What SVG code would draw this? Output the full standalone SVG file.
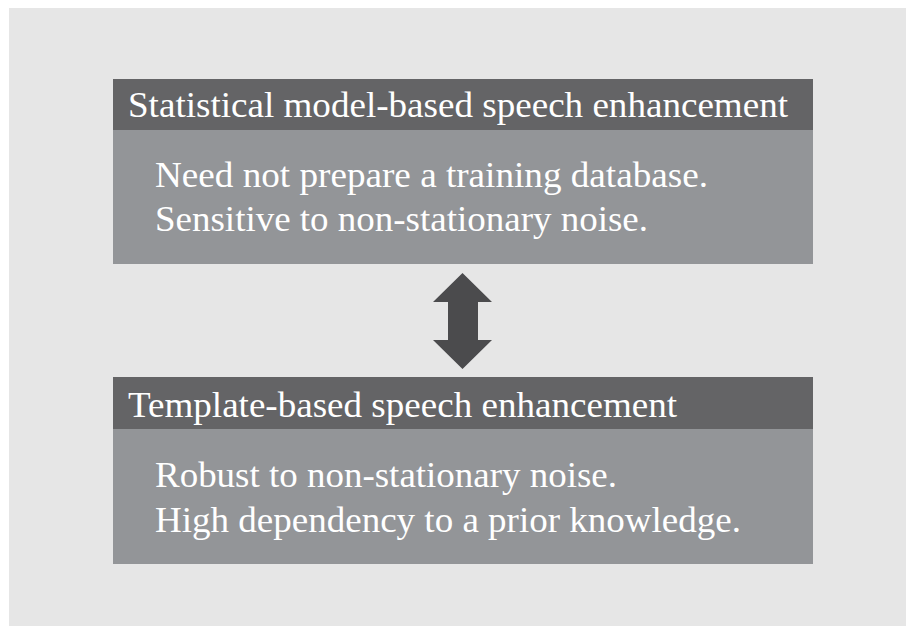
<svg xmlns="http://www.w3.org/2000/svg" width="906" height="627" viewBox="0 0 906 627">
  <style>
    .hdr { fill: #646466; }
    .body { fill: #939598; }
    .t { font-family: "Liberation Serif", "Times New Roman", serif; font-size: 36px; fill: #ffffff; }
  </style>
  <rect x="0" y="0" width="906" height="627" fill="#ffffff"/>
  <rect x="9" y="8" width="897" height="618" fill="#e6e6e6"/>

  <g id="node-statistical">
    <rect class="hdr" x="113" y="79" width="700" height="51"/>
    <rect class="body" x="113" y="130" width="700" height="134"/>
    <text class="t" x="128" y="117" textLength="660" lengthAdjust="spacingAndGlyphs">Statistical model-based speech enhancement</text>
    <text class="t" x="155" y="187" textLength="553" lengthAdjust="spacingAndGlyphs">Need not prepare a training database.</text>
    <text class="t" x="155" y="231" textLength="493" lengthAdjust="spacingAndGlyphs">Sensitive to non-stationary noise.</text>
  </g>

  <g id="node-template">
    <rect class="hdr" x="113" y="377" width="700" height="52"/>
    <rect class="body" x="113" y="429" width="700" height="135"/>
    <text class="t" x="128" y="417" textLength="549" lengthAdjust="spacingAndGlyphs">Template-based speech enhancement</text>
    <text class="t" x="155" y="487" textLength="462" lengthAdjust="spacingAndGlyphs">Robust to non-stationary noise.</text>
    <text class="t" x="155" y="532" textLength="586" lengthAdjust="spacingAndGlyphs">High dependency to a prior knowledge.</text>
  </g>

  <g id="connectors">
    <polygon fill="#4b4b4d" points="462.5,273 492,302 478,302 478,340 492,340 462.5,369 433,340 448,340 448,302 433,302"/>
  </g>
</svg>
